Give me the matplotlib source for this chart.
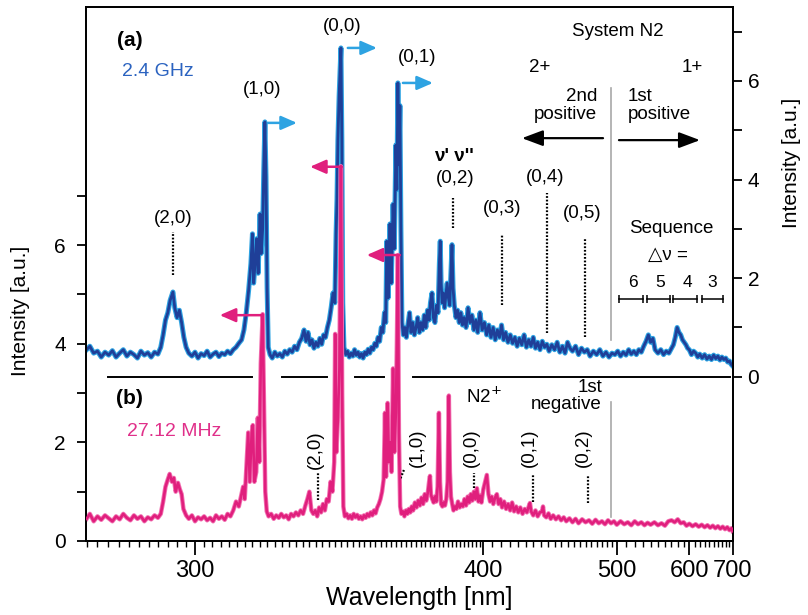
import numpy as np
import matplotlib
matplotlib.use("Agg")
import matplotlib.pyplot as plt
from matplotlib.ticker import FixedLocator, NullFormatter, FixedFormatter

plt.rcParams['font.family'] = ['Liberation Sans', 'DejaVu Sans']

# ---------------- spectra ----------------
# (a) 2.4 GHz discharge, right-hand intensity scale
wl_blue = [278.0, 278.6, 279.3, 280.0, 280.7, 281.4, 282.1, 282.8, 283.5, 284.2, 284.9, 285.6, 286.3, 287.0,
           287.7, 288.4, 289.1, 289.8, 290.5, 291.2, 291.9, 292.5, 293.0, 293.5, 294.0, 294.5, 295.1, 295.5,
           296.0, 296.5, 297.0, 297.5, 298.0, 298.6, 299.3, 300.0, 300.7, 301.4, 302.1, 302.8, 303.5, 304.2,
           304.9, 305.6, 306.3, 307.0, 307.7, 308.4, 309.1, 309.8, 310.5, 311.2, 311.8, 312.4, 313.0, 313.6,
           314.0, 314.3, 314.7, 315.1, 315.5, 316.0, 316.3, 316.7, 317.0, 317.3, 317.6, 317.9, 318.2, 318.7,
           319.3, 320.0, 320.7, 321.4, 322.1, 322.8, 323.5, 324.2, 324.9, 325.6, 326.3, 327.0, 327.7, 328.4,
           329.0, 329.6, 330.2, 330.8, 331.4, 332.0, 332.6, 333.2, 333.8, 334.4, 335.0, 335.6, 336.2, 336.8,
           337.4, 338.0, 338.4, 338.7, 339.0, 339.4, 340.0, 340.3, 340.6, 341.0, 341.6, 342.2, 342.8, 343.4,
           344.0, 344.6, 345.2, 345.8, 346.4, 347.0, 347.6, 348.2, 348.8, 349.4, 350.0, 350.6, 351.2, 351.8,
           352.4, 353.0, 353.6, 354.2, 354.8, 355.4, 355.9, 356.3, 356.8, 357.5, 358.0, 358.7, 359.2, 359.8,
           360.2, 360.6, 361.0, 361.4, 361.8, 362.2, 362.8, 363.4, 364.0, 364.6, 365.3, 365.9, 366.6, 367.3,
           368.0, 368.7, 369.4, 370.1, 370.8, 371.5, 372.2, 372.9, 373.6, 374.2, 374.9, 375.5, 376.2, 376.9,
           377.6, 378.2, 378.6, 379.0, 379.5, 380.0, 380.6, 381.2, 381.8, 382.4, 383.0, 383.6, 384.1, 384.6,
           385.2, 386.0, 386.8, 387.6, 388.4, 389.2, 390.0, 391.0, 392.0, 393.0, 394.0, 395.0, 396.0, 397.0,
           398.2, 399.4, 400.6, 401.8, 403.0, 404.2, 405.4, 406.6, 407.8, 409.0, 410.2, 411.4, 412.6, 414.0,
           415.4, 416.8, 418.2, 419.6, 421.0, 422.5, 424.0, 425.5, 427.0, 428.5, 430.0, 431.5, 433.0, 434.6,
           436.2, 437.8, 439.4, 441.0, 443.0, 445.0, 447.0, 449.0, 451.0, 453.0, 455.0, 457.0, 459.0, 461.5,
           464.0, 466.5, 469.0, 471.5, 474.0, 477.0, 480.0, 483.0, 486.0, 489.0, 492.0, 495.0, 498.0, 501.0,
           504.0, 507.0, 510.0, 513.0, 516.0, 519.0, 522.0, 525.0, 528.0, 531.0, 534.0, 537.0, 540.0, 543.0,
           546.0, 550.0, 554.0, 558.0, 562.0, 566.0, 570.0, 573.0, 576.0, 579.0, 582.0, 585.0, 588.0, 591.0,
           594.0, 597.0, 600.0, 604.0, 608.0, 612.0, 616.0, 620.0, 625.0, 630.0, 635.0, 640.0, 645.0, 650.0,
           655.0, 660.0, 665.0, 670.0, 675.0, 680.0, 685.0, 690.0, 695.0, 699.0]
int_blue = [0.55, 0.62, 0.48, 0.52, 0.40, 0.50, 0.44, 0.53, 0.40, 0.48, 0.55, 0.42, 0.50, 0.45,
            0.38, 0.52, 0.44, 0.49, 0.40, 0.50, 0.46, 0.60, 0.85, 1.15, 1.30, 1.55, 1.72, 1.40,
            1.20, 1.35, 1.10, 0.80, 0.60, 0.48, 0.42, 0.50, 0.38, 0.47, 0.43, 0.52, 0.40, 0.46,
            0.50, 0.41, 0.48, 0.45, 0.52, 0.47, 0.55, 0.60, 0.68, 0.75, 0.95, 1.30, 1.75, 2.30,
            2.90, 1.90, 2.30, 2.80, 2.10, 3.30, 2.50, 3.00, 4.20, 5.17, 4.05, 1.80, 0.60, 0.45,
            0.38, 0.50, 0.42, 0.47, 0.40, 0.52, 0.46, 0.55, 0.50, 0.62, 0.55, 0.70, 0.78, 0.95,
            0.72, 0.90, 0.65, 0.75, 0.58, 0.70, 0.62, 0.78, 0.66, 0.85, 0.80, 1.00, 1.15, 1.40,
            1.70, 1.50, 2.90, 3.60, 4.80, 5.70, 6.67, 4.80, 1.50, 0.60, 0.45, 0.52, 0.40, 0.48,
            0.42, 0.55, 0.44, 0.50, 0.40, 0.47, 0.38, 0.50, 0.45, 0.56, 0.48, 0.60, 0.55, 0.68,
            0.62, 0.80, 0.72, 1.00, 0.90, 1.30, 1.10, 2.75, 1.60, 3.10, 1.90, 3.50, 2.60, 4.70,
            3.80, 5.96, 4.30, 5.50, 3.00, 1.10, 0.85, 1.00, 0.80, 1.05, 1.30, 0.90, 1.10, 0.85,
            1.00, 1.20, 0.90, 1.10, 0.95, 1.25, 1.00, 1.35, 1.15, 1.50, 1.70, 1.20, 1.10, 1.45,
            1.30, 2.30, 2.75, 1.90, 1.50, 1.70, 1.40, 1.65, 1.90, 1.60, 1.45, 2.10, 2.68, 1.80,
            1.45, 1.20, 1.35, 1.10, 1.30, 1.05, 1.20, 1.00, 1.40, 1.10, 1.25, 0.95, 1.15, 0.90,
            1.30, 0.95, 1.10, 0.85, 1.05, 0.80, 1.00, 0.75, 0.95, 0.80, 1.05, 0.75, 0.90, 0.70,
            0.85, 0.68, 0.80, 0.62, 0.78, 0.65, 0.85, 0.60, 0.75, 0.62, 0.80, 0.58, 0.70, 0.55,
            0.72, 0.60, 0.66, 0.52, 0.65, 0.55, 0.70, 0.50, 0.62, 0.48, 0.70, 0.58, 0.52, 0.62,
            0.45, 0.58, 0.50, 0.55, 0.42, 0.52, 0.45, 0.55, 0.42, 0.50, 0.40, 0.48, 0.45, 0.52,
            0.42, 0.50, 0.44, 0.55, 0.46, 0.52, 0.45, 0.55, 0.50, 0.62, 0.72, 0.85, 0.70, 0.78,
            0.55, 0.48, 0.55, 0.45, 0.52, 0.48, 0.58, 0.65, 0.80, 1.00, 0.90, 0.85, 0.75, 0.70,
            0.65, 0.58, 0.55, 0.45, 0.52, 0.48, 0.40, 0.46, 0.38, 0.45, 0.36, 0.42, 0.35, 0.44,
            0.37, 0.42, 0.34, 0.40, 0.35, 0.38, 0.30, 0.32, 0.25, 0.22]

# (b) 27.12 MHz discharge, left-hand intensity scale
wl_pink = [278.0, 278.6, 279.3, 280.0, 280.7, 281.4, 282.1, 282.8, 283.5, 284.2, 284.9, 285.6, 286.3, 287.0,
           287.7, 288.4, 289.1, 289.8, 290.5, 291.2, 291.9, 292.5, 293.0, 293.5, 294.0, 294.4, 294.9, 295.3,
           295.7, 296.2, 296.6, 297.0, 297.4, 298.0, 298.6, 299.3, 300.0, 300.7, 301.4, 302.1, 302.8, 303.5,
           304.2, 304.9, 305.6, 306.3, 307.0, 307.7, 308.4, 309.1, 309.8, 310.5, 311.2, 311.6, 312.0, 312.5,
           312.9, 313.3, 313.8, 314.1, 314.5, 315.0, 315.4, 315.8, 316.2, 316.7, 317.0, 317.4, 317.8, 318.3,
           319.0, 319.7, 320.4, 321.1, 321.8, 322.5, 323.2, 323.9, 324.6, 325.3, 326.0, 326.7, 327.4, 328.1,
           328.8, 329.4, 330.0, 330.6, 331.2, 331.8, 332.4, 333.0, 333.6, 334.2, 334.8, 335.4, 336.0, 336.6,
           337.2, 337.8, 338.1, 338.5, 339.0, 339.5, 340.0, 340.4, 340.8, 341.3, 341.9, 342.5, 343.1, 343.7,
           344.3, 344.9, 345.5, 346.1, 346.7, 347.3, 347.9, 348.5, 349.1, 349.7, 350.3, 350.9, 351.5, 352.1,
           352.7, 353.3, 353.9, 354.5, 355.1, 355.6, 356.0, 356.6, 357.1, 357.6, 358.1, 358.7, 359.2, 359.8,
           360.2, 360.6, 361.0, 361.5, 362.0, 362.6, 363.2, 363.8, 364.4, 365.0, 365.6, 366.2, 366.8, 367.5,
           368.2, 368.9, 369.6, 370.3, 371.0, 371.7, 372.4, 373.1, 373.6, 374.0, 374.4, 375.0, 375.6, 376.2,
           376.8, 377.4, 378.0, 378.5, 379.0, 379.6, 380.2, 380.8, 381.4, 382.0, 382.6, 383.1, 383.6, 384.2,
           384.8, 385.5, 386.2, 387.0, 387.8, 388.6, 389.4, 390.2, 391.0, 391.8, 392.6, 393.4, 394.2, 395.0,
           395.8, 396.6, 397.4, 398.2, 399.0, 400.0, 401.0, 401.9, 402.8, 403.7, 404.6, 405.5, 406.5, 407.5,
           408.5, 409.5, 410.5, 411.7, 412.9, 414.1, 415.3, 416.5, 417.7, 419.0, 420.3, 421.6, 423.0, 424.4,
           425.8, 427.2, 427.8, 428.6, 430.0, 431.5, 433.0, 434.5, 436.0, 436.7, 437.5, 439.0, 440.6, 442.2,
           444.0, 446.0, 448.0, 450.0, 452.0, 454.0, 456.5, 459.0, 461.5, 464.0, 467.0, 470.0, 473.0, 476.0,
           479.0, 482.0, 485.0, 488.0, 491.0, 494.0, 497.0, 500.0, 504.0, 508.0, 512.0, 516.0, 520.0, 524.0,
           528.0, 532.0, 536.0, 540.0, 545.0, 550.0, 555.0, 560.0, 565.0, 570.0, 575.0, 580.0, 585.0, 590.0,
           595.0, 600.0, 606.0, 612.0, 618.0, 624.0, 630.0, 636.0, 642.0, 648.0, 654.0, 660.0, 666.0, 672.0,
           678.0, 684.0, 690.0, 696.0, 699.0]
int_pink = [0.45, 0.55, 0.40, 0.50, 0.43, 0.52, 0.46, 0.40, 0.50, 0.44, 0.55, 0.47, 0.42, 0.52,
            0.45, 0.50, 0.40, 0.48, 0.44, 0.52, 0.47, 0.55, 0.80, 1.10, 1.25, 1.36, 1.20, 1.28,
            1.00, 1.18, 1.05, 0.95, 0.65, 0.52, 0.45, 0.52, 0.40, 0.48, 0.44, 0.50, 0.42, 0.47,
            0.40, 0.52, 0.45, 0.50, 0.43, 0.55, 0.50, 0.62, 0.80, 0.70, 0.95, 1.10, 0.85, 1.60,
            2.20, 1.20, 2.20, 2.35, 1.20, 1.40, 2.50, 1.60, 3.60, 4.60, 3.00, 1.00, 0.60, 0.50,
            0.55, 0.45, 0.52, 0.47, 0.55, 0.48, 0.52, 0.44, 0.55, 0.50, 0.58, 0.52, 0.62, 0.55,
            0.72, 0.85, 1.00, 0.62, 0.55, 0.62, 0.50, 0.68, 0.58, 0.75, 0.62, 0.85, 0.80, 1.20,
            1.00, 1.60, 4.20, 1.80, 2.50, 3.50, 7.60, 3.00, 0.70, 0.50, 0.55, 0.46, 0.52, 0.45,
            0.55, 0.48, 0.53, 0.45, 0.50, 0.44, 0.52, 0.47, 0.55, 0.50, 0.58, 0.52, 0.62, 0.56,
            0.68, 0.75, 0.85, 1.00, 1.25, 2.60, 1.30, 2.80, 1.60, 2.00, 1.40, 3.50, 1.80, 2.60,
            4.00, 5.80, 2.20, 0.70, 0.55, 0.60, 0.50, 0.62, 0.55, 0.65, 0.58, 0.70, 0.62, 0.78,
            0.68, 0.82, 0.72, 0.88, 0.75, 0.95, 0.82, 1.00, 1.20, 1.32, 0.95, 0.85, 0.78, 0.90,
            0.80, 1.10, 2.60, 1.20, 0.75, 0.70, 0.78, 0.72, 0.85, 1.20, 2.95, 1.40, 0.90, 0.75,
            0.62, 0.70, 0.65, 0.80, 0.68, 0.75, 0.70, 0.85, 0.72, 0.90, 0.78, 0.95, 0.82, 1.00,
            0.85, 1.07, 0.80, 0.92, 0.78, 1.05, 1.20, 1.34, 0.95, 0.80, 0.90, 0.75, 0.88, 0.95,
            0.75, 0.85, 0.68, 0.80, 0.65, 0.75, 0.62, 0.78, 0.60, 0.70, 0.58, 0.68, 0.55, 0.65,
            0.58, 0.72, 0.77, 0.60, 0.52, 0.62, 0.50, 0.58, 0.60, 0.70, 0.52, 0.48, 0.56, 0.45,
            0.52, 0.44, 0.50, 0.42, 0.48, 0.40, 0.46, 0.38, 0.45, 0.36, 0.44, 0.38, 0.42, 0.35,
            0.43, 0.36, 0.40, 0.34, 0.42, 0.36, 0.40, 0.33, 0.40, 0.34, 0.38, 0.32, 0.40, 0.34,
            0.38, 0.32, 0.37, 0.33, 0.38, 0.32, 0.36, 0.31, 0.40, 0.42, 0.38, 0.44, 0.36, 0.38,
            0.31, 0.35, 0.30, 0.34, 0.29, 0.33, 0.28, 0.32, 0.27, 0.31, 0.26, 0.30, 0.25, 0.29,
            0.24, 0.28, 0.22, 0.26, 0.20]

# axis ticks
x_major = [300, 400, 500, 600, 700]
x_major_labels = ['300', '400', '500', '600', '700']
y_major = [0, 2, 4, 6]
y_minor = [1, 3, 5, 7]

# upper-panel zero line, broken around the strong 27.12 MHz bands
baseline_segments = [(281.9, 313.9), (322.0, 335.4), (344.7, 355.2), (366.7, 691.5)]

BLUE_D = '#1f3f98'
BLUE_L = '#2ea3e2'
PINK = '#e01f7d'
PINK_L = '#f272b2'


def fwd(x):
    x = np.asarray(x, dtype=float)
    with np.errstate(divide='ignore', invalid='ignore'):
        return -1e6 / x ** 2


def inv(t):
    t = np.asarray(t, dtype=float)
    with np.errstate(divide='ignore', invalid='ignore'):
        return np.sqrt(-1e6 / t)


fig = plt.figure(figsize=(8.08, 6.15), dpi=100)
ax = fig.add_axes([86 / 808, 74 / 615, 647 / 808, 534 / 615])
ax.set_xscale('function', functions=(fwd, inv))
ax2 = ax.twinx()
ax.set_zorder(ax2.get_zorder() + 1)
ax.patch.set_visible(False)

ax.set_xlim(277.9, 700)
ax.set_ylim(0, 10.83)
ax2.set_ylim(-3.33, 7.50)

# spectra
ax2.plot(wl_blue, int_blue, color=BLUE_L, lw=3.6, zorder=2)
ax2.plot(wl_blue, int_blue, color=BLUE_D, lw=2.0, zorder=3)
for a, b in baseline_segments:
    ax2.plot([a, b], [0, 0], color='black', lw=1.4, zorder=4)

ax.plot(wl_pink, int_pink, color=PINK_L, lw=3.2, zorder=2)
ax.plot(wl_pink, int_pink, color=PINK, lw=1.9, zorder=3)

# spines and ticks
for axis in (ax, ax2):
    for s in axis.spines.values():
        s.set_linewidth(1.3)

ax.xaxis.set_major_locator(FixedLocator(x_major))
ax.xaxis.set_major_formatter(FixedFormatter(x_major_labels))
x_minor = list(range(278, 400, 2)) + list(range(400, 500, 5)) + list(range(500, 700, 10))
ax.xaxis.set_minor_locator(FixedLocator([v for v in x_minor if v not in x_major]))
ax.xaxis.set_minor_formatter(NullFormatter())
ax.tick_params(axis='x', which='major', direction='out', length=10, width=1.3, labelsize=17, pad=4)
ax.tick_params(axis='x', which='minor', direction='out', length=4, width=1.0)

ax.yaxis.set_major_locator(FixedLocator(y_major))
ax.yaxis.set_minor_locator(FixedLocator(y_minor))
ax.yaxis.set_minor_formatter(NullFormatter())
ax.tick_params(axis='y', which='both', direction='out', length=6.5, width=1.3, labelsize=15, pad=8)

ax2.yaxis.set_major_locator(FixedLocator(y_major))
ax2.yaxis.set_minor_locator(FixedLocator(y_minor))
ax2.yaxis.set_minor_formatter(NullFormatter())
ax2.tick_params(axis='y', which='both', direction='out', length=6.5, width=1.3, labelsize=15, pad=4)

ax.set_xlabel('Wavelength [nm]', fontsize=18)
ax.xaxis.set_label_coords(0.515, -0.107)
ax.xaxis.label.set_va('center')
ax.set_ylabel('Intensity [a.u.]', fontsize=15)
ax.yaxis.set_label_coords(-0.102, 0.431)
ax.yaxis.label.set_va('center')
ax2.set_ylabel('Intensity [a.u.]', fontsize=15)
ax2.yaxis.set_label_coords(1.0897, 0.708)
ax2.yaxis.label.set_va('center')

# ---------------- annotations ----------------
FS = 13.5
dot = dict(color='black', lw=1.6, ls=(0, (0.8, 0.8)))


def arrow(x_tail, x_head, y, color, lw=1.8, scale=12, width=0.35):
    ax.annotate('', xy=(x_head, y), xytext=(x_tail, y),
                arrowprops=dict(arrowstyle=f'-|>,head_length=0.8,head_width={width}',
                                color=color, lw=lw, shrinkA=0, shrinkB=0, mutation_scale=scale),
                zorder=6)


ax.text(286.2, 10.16, '(a)', fontsize=15, fontweight='bold', ha='center', va='center')
ax.text(284.6, 9.53, '2.4 GHz', fontsize=14, color='#2b63c0', ha='left', va='center')
ax.text(286.2, 2.88, '(b)', fontsize=15, fontweight='bold', ha='center', va='center')
ax.text(285.6, 2.23, '27.12 MHz', fontsize=14, color='#e0308a', ha='left', va='center')

# second positive system band labels
ax.text(316.5, 9.15, '(1,0)', fontsize=FS, ha='center', va='center')
ax.text(340.3, 10.43, '(0,0)', fontsize=FS, ha='center', va='center')
ax.text(368.4, 9.80, '(0,1)', fontsize=FS, ha='center', va='center')
ax.text(295.1, 6.55, '(2,0)', fontsize=FS, ha='center', va='center')
ax.plot([295.1, 295.1], [5.40, 6.27], **dot)
ax.text(385.0, 7.79, "ν' ν''", fontsize=FS, fontweight='bold', ha='center', va='center')
ax.text(385.5, 7.36, '(0,2)', fontsize=FS, ha='center', va='center')
ax.plot([384.6, 384.6], [6.35, 6.96], **dot)
ax.text(410.4, 6.75, '(0,3)', fontsize=FS, ha='center', va='center')
ax.plot([410.4, 410.4], [4.79, 6.21], **dot)
ax.text(438.1, 7.38, '(0,4)', fontsize=FS, ha='center', va='center')
ax.plot([439.5, 439.5], [4.22, 7.06], **dot)
ax.text(466.9, 6.65, '(0,5)', fontsize=FS, ha='center', va='center')
ax.plot([469.5, 469.5], [4.14, 6.15], **dot)

arrow(318.1, 326.3, 8.48, BLUE_L)
arrow(342.3, 352.6, 10.00, BLUE_L)
arrow(362.6, 375.3, 9.29, BLUE_L)
arrow(316.5, 305.8, 4.58, PINK)
arrow(340.3, 330.2, 7.59, PINK)
arrow(361.4, 348.9, 5.80, PINK)

# system headers
ax.text(501.3, 10.34, 'System N2', fontsize=13.5, ha='center', va='center')
ax.text(434.6, 9.61, '2+', fontsize=13.5, ha='center', va='center')
ax.text(605.0, 9.61, '1+', fontsize=13.5, ha='center', va='center')
ax.text(480.4, 8.83, '2nd\npositive', fontsize=13.5, ha='right', va='center',
        multialignment='right', linespacing=1.05)
ax.text(512.3, 8.83, '1st\npositive', fontsize=13.5, ha='left', va='center',
        multialignment='left', linespacing=1.05)
arrow(486.1, 422.6, 8.17, 'black', lw=1.6, scale=16, width=0.3)
arrow(502.3, 620.5, 8.13, 'black', lw=1.6, scale=16, width=0.3)
ax.plot([494.0, 494.0], [4.08, 9.19], color='#a8a8a8', lw=1.2)
ax.plot([494.0, 494.0], [0.49, 2.82], color='#a8a8a8', lw=1.2)

# first positive sequences
ax.text(569.2, 6.33, 'Sequence', fontsize=13.5, ha='center', va='center')
ax.text(564.6, 5.80, '△ν =', fontsize=13.5, ha='center', va='center')
for xv, lab in [(518.0, '6'), (552.9, '5'), (595.9, '4'), (646.2, '3')]:
    ax.text(xv, 5.25, lab, fontsize=12.5, ha='center', va='center')
for a, b in [(502.3, 530.1), (535.2, 567.7), (572.4, 614.6), (624.6, 672.8)]:
    ax.plot([a, b], [4.91, 4.91], color='black', lw=1.1, marker='|', ms=6, mew=1.1)

# first negative system of N2+
ax.text(331.7, 1.85, '(2,0)', fontsize=FS, rotation=90, ha='center', va='center')
ax.plot([332.6, 332.6], [0.83, 1.38], **dot)
ax.text(368.4, 1.89, '(1,0)', fontsize=FS, rotation=90, ha='center', va='center')
ax.plot([363.0, 361.4], [1.44, 1.24], **dot)
ax.text(393.5, 1.89, '(0,0)', fontsize=FS, rotation=90, ha='center', va='center')
ax.plot([395.0, 395.0], [1.08, 1.38], **dot)
ax.text(427.2, 1.89, '(0,1)', fontsize=FS, rotation=90, ha='center', va='center')
ax.plot([429.8, 429.8], [0.79, 1.34], **dot)
ax.text(467.8, 1.89, '(0,2)', fontsize=FS, rotation=90, ha='center', va='center')
ax.plot([472.2, 472.2], [0.77, 1.34], **dot)
ax.text(400.5, 2.92, 'N2$^{+}$', fontsize=13.5, ha='center', va='center')
ax.text(485.1, 2.94, '1st\nnegative', fontsize=13.5, ha='right', va='center',
        multialignment='right', linespacing=1.0)

fig.savefig('out.png', dpi=100)
